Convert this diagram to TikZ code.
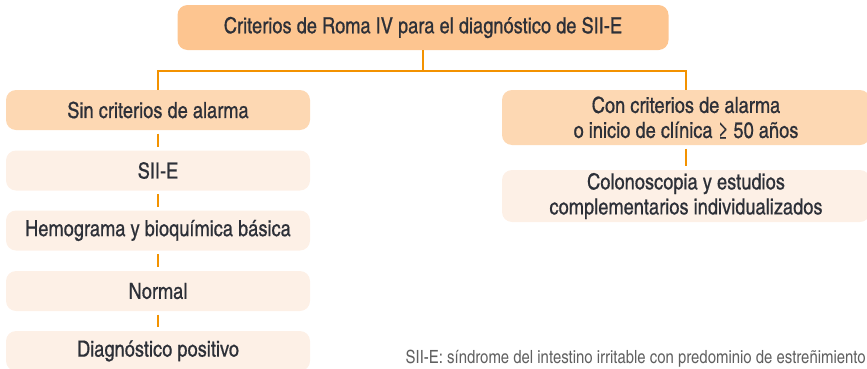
\documentclass[tikz,border=0pt]{standalone}
\usepackage{fontspec}
\setmainfont{TeX Gyre Heros Cn}
\newfontfamily\boxfont[FakeBold = 0.6]{TeX Gyre Heros Cn}
\usepackage{xcolor}
\definecolor{romafill}{HTML}{FDC590}
\definecolor{alarmfill}{HTML}{FDD8B3}
\definecolor{palefill}{HTML}{FDF0E6}
\definecolor{linkline}{HTML}{F39200}
\definecolor{boxtext}{HTML}{2D3038}
\definecolor{notetext}{HTML}{606060}
\tikzstyle{box} = [rounded corners = 7.5pt, inner sep = 0pt, align = center, text = boxtext, font = \boxfont\fontsize{16.7}{18.75}\selectfont]
\tikzstyle{left box} = [box, minimum width = 228pt, minimum height = 30pt]
\tikzstyle{link} = [draw = linkline, line width = 1.5pt]
\tikzstyle{gap link} = [link, shorten < = 2.5pt, shorten > = 2.5pt]

\begin{document}
\begin{tikzpicture}[x = 0.75pt, y = -0.75pt]
        \clip (0, 0) rectangle (867, 368);
        \useasboundingbox (0, 0) rectangle (867, 368);
        \node (roma) at (423, 27.5) [box, fill = romafill, minimum width = 368.25pt, minimum height = 33.75pt] {Criterios de Roma IV para el diagnóstico de SII-E};
        \node (sin) at (158, 110) [left box, fill = alarmfill] {Sin criterios de alarma};
        \node (siie) at (158, 170.5) [left box, fill = palefill] {SII-E};
        \node (hemo) at (158, 230.5) [left box, fill = palefill] {Hemograma y bioquímica básica};
        \node (normal) at (158, 291) [left box, fill = palefill] {Normal};
        \node (diag) at (158, 351) [left box, fill = palefill] {Diagnóstico positivo};
        \node (con) at (686, 117.5) [box, fill = alarmfill, minimum width = 276pt, minimum height = 41.25pt] {Con criterios de alarma\\o inicio de clínica ≥ 50 años};
        \node (colono) at (686, 196) [box, fill = palefill, minimum width = 276pt, minimum height = 39pt] {Colonoscopia y estudios\\complementarios individualizados};
        \coordinate (bus) at (423, 71);
        \draw [link] (roma.south) -- (bus);
        \draw [link] (sin.north) |- (bus) -| (con.north);
        \draw [gap link] (sin) -- (siie);
        \draw [gap link] (siie) -- (hemo);
        \draw [gap link] (hemo) -- (normal);
        \draw [gap link] (normal) -- (diag);
        \draw [gap link] (con) -- (colono);
        \node (nota) at (866, 363.5) [anchor = base east, inner sep = 0pt, text = notetext, font = \fontsize{13.65}{15}\selectfont] {SII-E: síndrome del intestino irritable con predominio de estreñimiento};
    \end{tikzpicture}
\end{document}
